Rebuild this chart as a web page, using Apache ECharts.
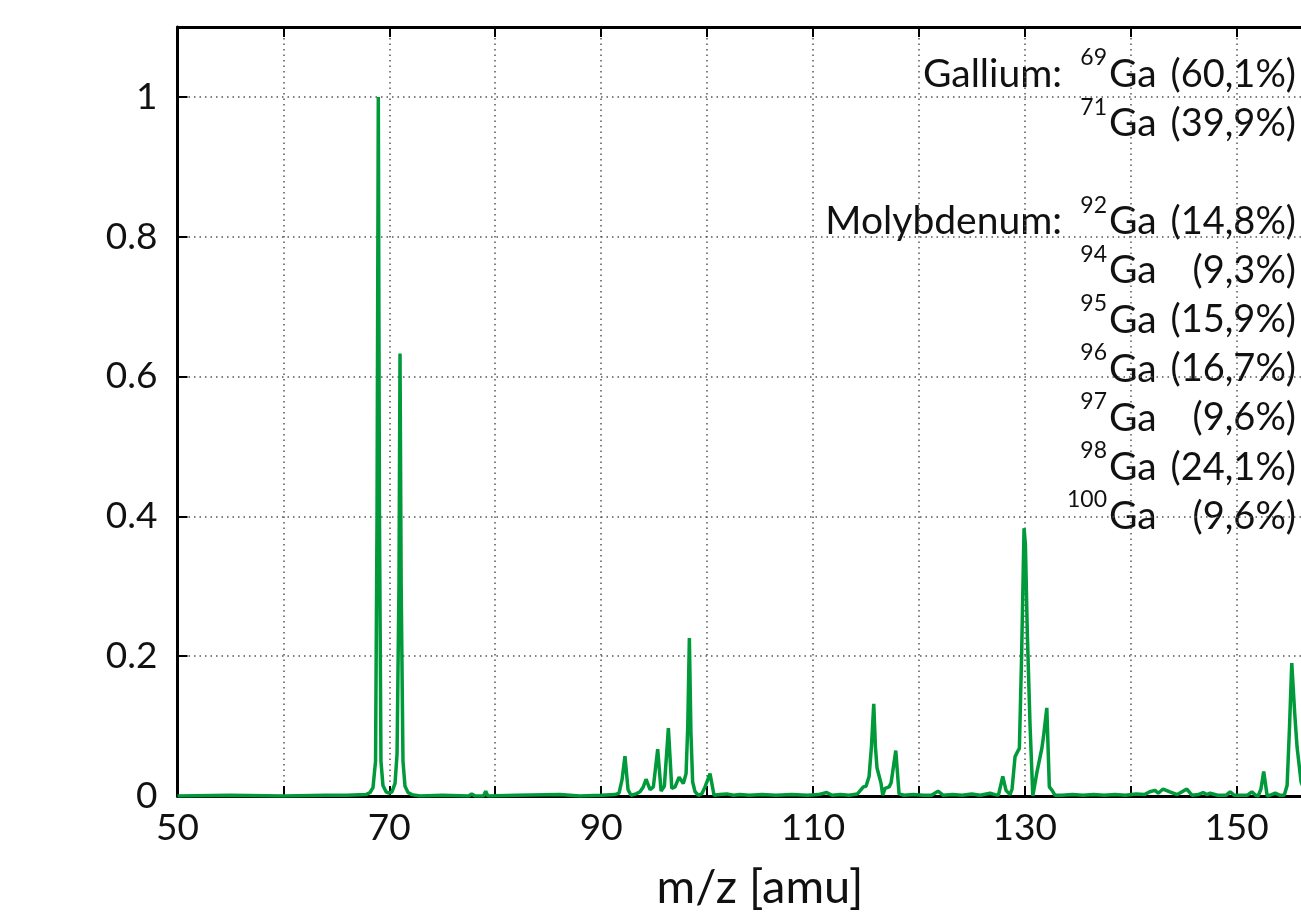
<!DOCTYPE html>
<html>
<head>
<meta charset="utf-8">
<script src="https://cdn.jsdelivr.net/npm/echarts@6/dist/echarts.min.js"></script>
<style>
  html, body { margin: 0; padding: 0; background: #fff; }
  #chart { width: 1301px; height: 912px; }
</style>
</head>
<body>
<div id="chart"></div>
<script>
  // spectrum: m/z [amu] and normalised intensity
  const mz = [
    50, 55, 60, 64, 66, 67.8, 68.18, 68.46, 68.7, 68.84, 68.96, 69.07, 69.21, 69.4, 69.69, 69.97,
    70.25, 70.54, 70.73, 70.91, 71.01, 71.12, 71.29, 71.48, 71.77, 72.14, 72.9, 75, 77.5, 77.78,
    78.1, 78.9, 79.1, 79.3, 82, 86.1, 88, 90, 91.31, 91.69, 91.97, 92.25, 92.54, 92.82, 93.3,
    93.67, 93.98, 94.24, 94.62, 94.93, 95.34, 95.66, 95.97, 96.35, 96.67, 96.98, 97.36, 97.76,
    98.02, 98.18, 98.33, 98.48, 98.64, 98.87, 99.18, 99.5, 99.81, 100.28, 100.66, 101.2, 101.86,
    102.5, 103.1, 104, 105.2, 106.5, 108, 109.5, 110.5, 111.3, 111.8, 112.6, 113.4, 114.2,
    114.76, 115.01, 115.3, 115.52, 115.74, 115.9, 116.05, 116.43, 116.59, 116.81, 117.19, 117.38,
    117.82, 118.13, 118.6, 119.5, 120.4, 121.2, 121.81, 122.3, 123.2, 124.1, 125, 125.8, 126.72,
    127.2, 127.51, 127.92, 128.23, 128.61, 128.8, 129.08, 129.27, 129.49, 129.7, 129.93, 130.06,
    130.24, 130.5, 130.76, 131.16, 131.61, 131.77, 132.08, 132.32, 132.58, 132.86, 133.5, 134.5,
    135.5, 136.5, 137.5, 138.5, 139.5, 140.5, 141.3, 141.8, 142.3, 142.6, 143.06, 143.7, 144.4,
    145.3, 145.8, 146.4, 146.84, 147.2, 147.5, 148.2, 149, 149.39, 149.8, 150.5, 151, 151.44,
    151.8, 152.04, 152.3, 152.56, 152.89, 153.3, 153.65, 154.1, 154.5, 154.77, 155, 155.21,
    155.48, 155.71, 156.09, 156.5, 157.5, 159, 160
  ];
  const intensity = [
    0, 0.001, 0, 0.001, 0.001, 0.002, 0.005, 0.012, 0.05, 0.4, 1.0, 0.4, 0.05, 0.015, 0.006, 0.004,
    0.006, 0.018, 0.06, 0.3, 0.633, 0.3, 0.05, 0.014, 0.005, 0.002, 0, 0.001, 0, 0.003,
    0, 0, 0.007, 0, 0.001, 0.002, 0, 0.001, 0.002, 0.004, 0.023, 0.057, 0.009, 0.001, 0.003,
    0.006, 0.013, 0.024, 0.009, 0.013, 0.067, 0.007, 0.014, 0.097, 0.011, 0.013, 0.027, 0.018,
    0.032, 0.1, 0.226, 0.09, 0.02, 0.006, 0.001, 0.003, 0.013, 0.032, 0.001, 0.002, 0.003,
    0.001, 0.002, 0.001, 0.002, 0.001, 0.002, 0.001, 0.002, 0.005, 0.001, 0.002, 0.001, 0.003,
    0.013, 0.014, 0.028, 0.07, 0.132, 0.07, 0.04, 0.018, 0.001, 0.011, 0.013, 0.019,
    0.065, 0.003, 0.001, 0.002, 0.001, 0.001, 0.007, 0.001, 0.002, 0.001, 0.003, 0.001, 0.004,
    0.002, 0.001, 0.028, 0.008, 0.002, 0.01, 0.056, 0.062, 0.068, 0.2, 0.383, 0.36,
    0.233, 0.1, 0, 0.035, 0.068, 0.085, 0.126, 0.013, 0.008, 0.001, 0.001, 0.002,
    0.001, 0.002, 0.001, 0.002, 0.001, 0.003, 0.002, 0.006, 0.008, 0.004, 0.01, 0.006, 0.002,
    0.01, 0.001, 0.002, 0.005, 0.002, 0.004, 0.001, 0.001, 0.006, 0.001, 0.001, 0.001, 0.006,
    0.001, 0, 0.01, 0.035, 0, 0.002, 0.004, 0.001, 0.001, 0.015, 0.1, 0.19,
    0.12, 0.07, 0.02, 0.005, 0.002, 0.001, 0
  ];

  // isotope key, top right
  const isoElement = ['Gallium:', '', 'Molybdenum:', '', '', '', '', '', ''];
  const isoRow = [0, 1, 3, 4, 5, 6, 7, 8, 9];
  const isoMass = ['69', '71', '92', '94', '95', '96', '97', '98', '100'];
  const isoPct = ['(60,1%)', '(39,9%)', '(14,8%)', '(9,3%)', '(15,9%)', '(16,7%)', '(9,6%)', '(24,1%)', '(9,6%)'];

  const FONT = 'Lato, "DejaVu Sans", sans-serif';

  const seriesData = mz.map((x, i) => [x, intensity[i]]);

  // key text, built as graphic elements
  const keyItems = [];
  isoMass.forEach((m, i) => {
    const base = 88 + isoRow[i] * 49.1;
    const cy = base - 13.5;
    const txt = (x, y, text, size, align) => ({
      type: 'text', x: x, y: y, silent: true,
      style: { text: text, fill: '#111', font: size + 'px ' + FONT, align: align, verticalAlign: 'middle' }
    });
    if (isoElement[i]) keyItems.push(txt(1062, cy, isoElement[i], 39, 'right'));
    keyItems.push(txt(1107, base - 30, m, 23, 'right'));
    keyItems.push(txt(1109, cy, 'Ga', 39, 'left'));
    keyItems.push(txt(1296, cy, isoPct[i], 38, 'right'));
  });

  const dotted = { color: '#555', width: 1.5, type: [1.5, 4] };
  const labelOnGrid = v => ((v - 50) % 20 === 0 ? String(v) : '');

  const chart = echarts.init(document.getElementById('chart'));
  chart.setOption({
    animation: false,
    backgroundColor: '#fff',
    // the plot runs on past the right edge of the picture
    grid: { left: 177.5, top: 27, width: 1165, height: 769, outerBoundsMode: 'none', containLabel: false },
    xAxis: [{
      type: 'value',
      min: 50,
      max: 160,
      interval: 10,
      name: 'm/z [amu]',
      nameLocation: 'middle',
      nameGap: 68,
      nameTextStyle: { fontFamily: FONT, fontSize: 47, color: '#111' },
      axisLine: { lineStyle: { color: '#000', width: 3 } },
      axisTick: { inside: true, length: 10, lineStyle: { color: '#000', width: 2 } },
      axisLabel: { margin: 14, fontFamily: FONT, fontSize: 37, color: '#111', formatter: labelOnGrid },
      splitLine: { show: true, lineStyle: dotted }
    }, {
      type: 'value',
      position: 'top',
      min: 50,
      max: 160,
      interval: 10,
      axisLine: { lineStyle: { color: '#000', width: 3 } },
      axisTick: { inside: true, length: 10, lineStyle: { color: '#000', width: 2 } },
      axisLabel: { show: false },
      splitLine: { show: false }
    }],
    yAxis: {
      type: 'value',
      min: 0,
      max: 1.1,
      interval: 0.2,
      axisLine: { show: true, lineStyle: { color: '#000', width: 3 } },
      axisTick: { show: true, inside: true, length: 10, lineStyle: { color: '#000', width: 2 } },
      axisLabel: {
        margin: 20, fontFamily: FONT, fontSize: 37, color: '#111',
        formatter: v => (v > 1.05 ? '' : String(Math.round(v * 10) / 10))
      },
      splitLine: { show: true, lineStyle: dotted }
    },
    series: [{
      type: 'line',
      xAxisIndex: 0,
      data: seriesData,
      showSymbol: false,
      lineStyle: { color: '#009a3a', width: 3.5 },
      z: 5
    }],
    graphic: keyItems
  });
</script>
</body>
</html>
